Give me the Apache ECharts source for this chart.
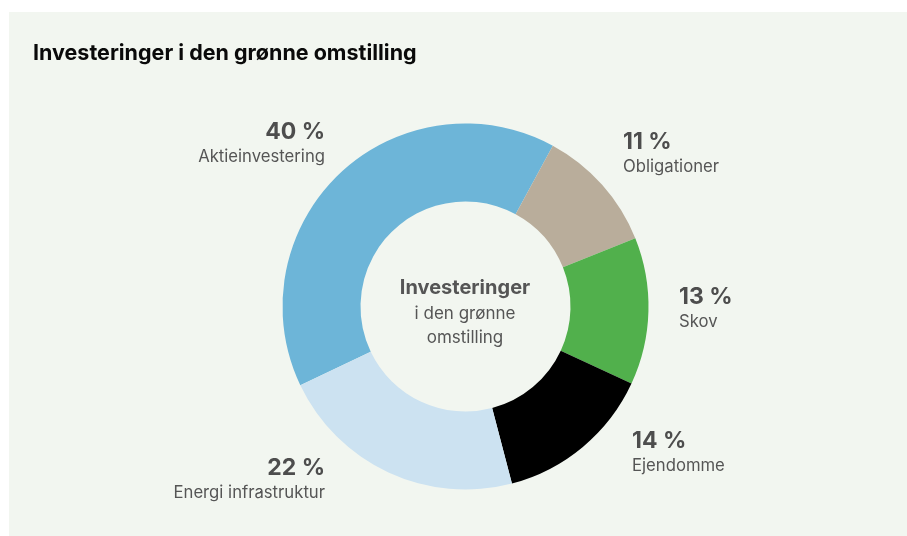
<!DOCTYPE html>
<html>
<head>
<meta charset="utf-8">
<script src="https://cdn.jsdelivr.net/npm/echarts@6/dist/echarts.min.js"></script>
<style>
  html, body { margin: 0; padding: 0; background: #ffffff; }
  #chart { width: 907px; height: 536px; }
</style>
</head>
<body>
<div id="chart"></div>
<script>
const categories = ['Aktieinvestering', 'Obligationer', 'Skov', 'Ejendomme', 'Energi infrastruktur']
const shares = [40, 11, 13, 14, 22]
const colors = ['#6db5d8', '#b9ad9b', '#51b04c', '#000000', '#cce2f1']

const chart = echarts.init(document.getElementById('chart'))

// label anchors (x, y of block middle) – left side labels are right aligned
const anchors = [
  [325, 143, 'right'],
  [623, 153, 'left'],
  [679, 308, 'left'],
  [632, 452, 'left'],
  [325, 479, 'right'],
]

chart.setOption({
  backgroundColor: '#ffffff',
  graphic: [{
    type: 'rect',
    z: -10,
    shape: { x: 9, y: 12, width: 898, height: 524 },
    style: { fill: '#f2f6f0' },
    silent: true,
  }],
  title: [
    {
      text: 'Investeringer i den grønne omstilling',
      left: 28,
      top: 38,
      textStyle: { fontFamily: 'Inter', fontWeight: 'bold', fontSize: 21.5, color: '#0a0a0a' },
    },
    {
      text: '{b|Investeringer}\n{r|i den grønne}\n{r|omstilling}',
      left: 460,
      top: 269,
      textAlign: 'center',
      textStyle: {
        fontWeight: 'normal',
        rich: {
          b: { fontFamily: 'Inter', fontWeight: 'bold', fontSize: 20, color: '#555555', lineHeight: 28, align: 'center' },
          r: { fontFamily: 'Inter', fontWeight: 'normal', fontSize: 17, color: '#555555', lineHeight: 24, align: 'center' },
        },
      },
    },
  ],
  series: [{
    type: 'pie',
    center: [465.5, 306.5],
    radius: [105, 183],
    startAngle: 205.5,
    clockwise: true,
    silent: true,
    data: categories.map((name, i) => ({
      name,
      value: shares[i],
      itemStyle: { color: colors[i] },
    })),
    label: {
      show: true,
      position: 'outside',
      formatter: (p) => `{p|${p.value} %}\n{n|${p.name}}`,
      rich: {
        p: { fontFamily: 'Inter', fontWeight: 'bold', fontSize: 23, color: '#4d4d4d', lineHeight: 27 },
        n: { fontFamily: 'Inter', fontSize: 16.7, color: '#555555', lineHeight: 21 },
      },
    },
    labelLine: { show: false },
    labelLayout: (params) => {
      const a = anchors[params.dataIndex]
      return { x: a[0], y: a[1], align: a[2], verticalAlign: 'middle' }
    },
  }],
})
</script>
</body>
</html>
